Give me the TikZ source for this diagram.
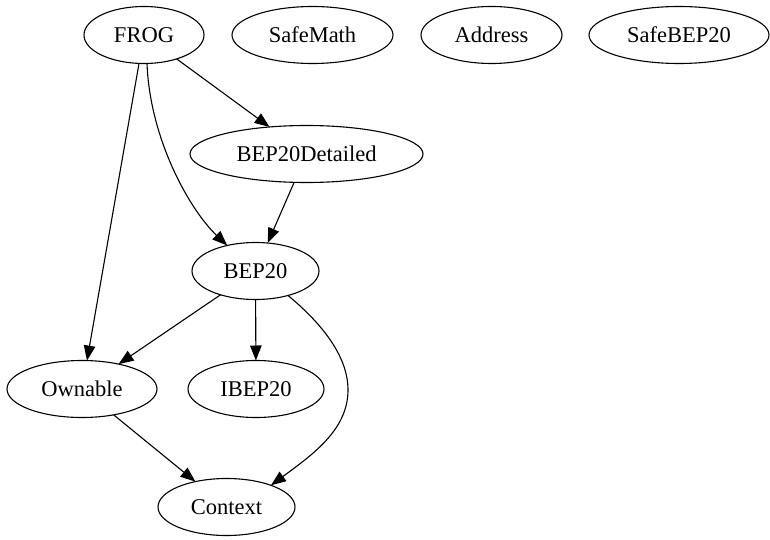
\documentclass[tikz,border=0pt]{standalone}
\usepackage{fontspec}
\setmainfont{Liberation Serif}
\usetikzlibrary{shapes.geometric,arrows.meta}
\begin{document}
\begin{tikzpicture}[x=1pt,y=-1pt,
  nd/.style={ellipse,draw,line width=1.1pt,inner sep=0pt,outer sep=0pt,minimum height=57pt,
    font=\fontsize{22.5}{26}\selectfont},
  edge/.style={line width=1.1pt,-{Triangle[length=15pt,width=11.5pt]}}]
\useasboundingbox[fill=white] (0,0) rectangle (770,540);
\node[nd,minimum width=120pt] (FROG) at (144,35) {FROG};
\node[nd,minimum width=161pt] (SafeMath) at (312.5,35) {SafeMath};
\node[nd,minimum width=141pt] (Address) at (491.5,35) {Address};
\node[nd,minimum width=180pt] (SafeBEP20) at (679,35) {SafeBEP20};
\node[nd,minimum width=233pt] (BEP20D) at (306.5,154) {BEP20Detailed};
\node[nd,minimum width=127pt] (BEP20) at (255.5,271) {BEP20};
\node[nd,minimum width=150pt] (Ownable) at (82,389) {Ownable};
\node[nd,minimum width=136pt] (IBEP20) at (256,389) {IBEP20};
\node[nd,minimum width=137pt] (Context) at (226.5,507) {Context};

\draw[edge] (FROG) -- (BEP20D);
\draw[edge] (FROG) -- (Ownable);
\draw[edge] (FROG.-84) .. controls (150,140) and (190,210) .. (BEP20.138);
\draw[edge] (BEP20D) -- (BEP20);
\draw[edge] (BEP20) -- (Ownable);
\draw[edge] (BEP20) -- (IBEP20);
\draw[edge] (Ownable) -- (Context);
\draw[edge] (BEP20.-37) .. controls (320,322) and (348,355) .. (348,390)
  .. controls (348,430) and (312,455) .. (Context.26);
\end{tikzpicture}
\end{document}
